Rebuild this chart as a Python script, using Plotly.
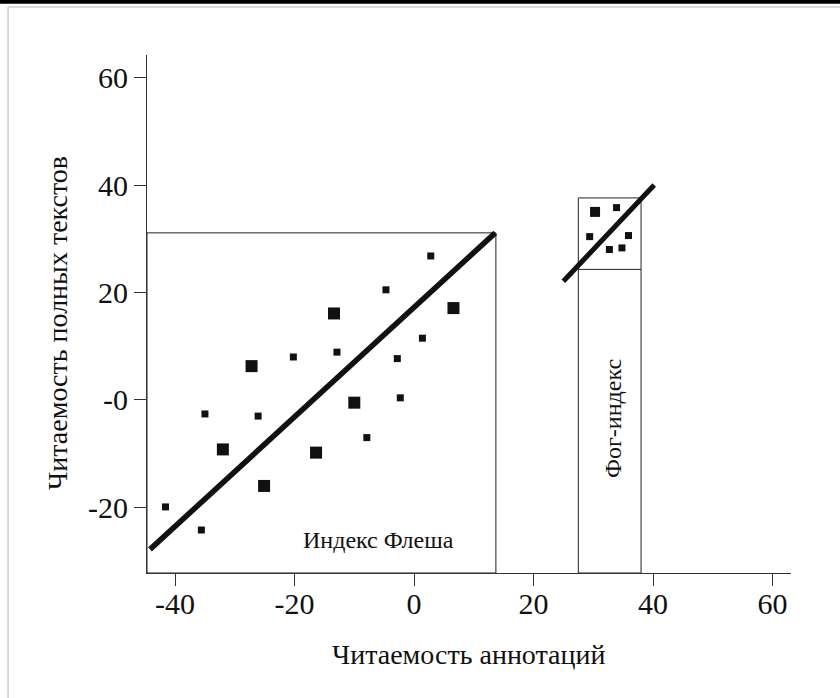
import plotly.graph_objects as go

# ---- data ----
x_ticks = [-40, -20, 0, 20, 40, 60]
x_tick_labels = ["-40", "-20", "0", "20", "40", "60"]
y_ticks = [60, 40, 20, 0, -20]
y_tick_labels = ["60", "40", "20", "-0", "-20"]

flesch_big_x = [-13.4, 6.6, -27.2, -10.0, -32.0, -16.4, -25.1]
flesch_big_y = [16.1, 17.1, 6.3, -0.5, -9.2, -9.8, -16.0]
flesch_small_x = [2.8, -4.7, 1.4, -20.2, -12.9, -2.8, -2.3, -35.0, -26.1, -7.9, -41.6, -35.6]
flesch_small_y = [26.8, 20.5, 11.5, 8.0, 8.9, 7.7, 0.4, -2.6, -3.0, -7.0, -19.9, -24.2]

fog_big_x = [30.3]
fog_big_y = [35.0]
fog_small_x = [33.9, 29.4, 35.9, 32.7, 34.8]
fog_small_y = [35.8, 30.4, 30.6, 28.0, 28.3]

flesch_fit_x = [-44.2, 13.6]
flesch_fit_y = [-27.8, 31.1]
fog_fit_x = [25.0, 40.2]
fog_fit_y = [22.1, 40.0]

flesch_box_x1 = 13.7
flesch_box_y1 = 31.1
fog_box_x = [27.5, 38.0]
fog_box_y1 = 37.6
fog_box_mid = 24.3

x_range = [-44.7, 63.1]
y_range = [-32.2, 64.2]

FONT = "Liberation Serif"
INK = "#111111"

fig = go.Figure()

def pts(x, y, size):
    fig.add_trace(go.Scatter(x=x, y=y, mode="markers",
                             marker=dict(symbol="square", size=size, color=INK,
                                         line=dict(width=0)),
                             showlegend=False, hoverinfo="skip"))

def fit(x, y, w):
    fig.add_trace(go.Scatter(x=x, y=y, mode="lines",
                             line=dict(color=INK, width=w),
                             showlegend=False, hoverinfo="skip"))

pts(flesch_big_x, flesch_big_y, 12)
pts(flesch_small_x, flesch_small_y, 7)
pts(fog_big_x, fog_big_y, 10)
pts(fog_small_x, fog_small_y, 7)
fit(flesch_fit_x, flesch_fit_y, 5.5)
fit(fog_fit_x, fog_fit_y, 5)

box_line = dict(color="#222222", width=1)
shapes = [
    dict(type="rect", xref="x", yref="y", x0=x_range[0], x1=flesch_box_x1,
         y0=y_range[0], y1=flesch_box_y1, line=box_line, layer="below"),
    dict(type="rect", xref="x", yref="y", x0=fog_box_x[0], x1=fog_box_x[1],
         y0=y_range[0], y1=fog_box_y1, line=box_line, layer="below"),
    dict(type="line", xref="x", yref="y", x0=fog_box_x[0], x1=fog_box_x[1],
         y0=fog_box_mid, y1=fog_box_mid, line=box_line, layer="below"),
    # frame decorations
    dict(type="rect", xref="paper", yref="paper", x0=-0.3, x1=1.2, y0=1.099, y1=1.2,
         fillcolor="black", line=dict(width=0)),
    dict(type="line", xref="paper", yref="paper", x0=-0.2158, x1=1.2, y0=1.0927, y1=1.0927,
         line=dict(color="#cccccc", width=1.5)),
    dict(type="line", xref="paper", yref="paper", x0=-0.2158, x1=-0.2158, y0=-0.3, y1=1.0927,
         line=dict(color="#cccccc", width=1.5)),
]

annotations = [
    dict(text="Индекс Флеша", x=-6.0, y=-26.0, xref="x", yref="y", showarrow=False,
         xanchor="center", yanchor="middle",
         font=dict(family=FONT, size=24, color=INK)),
    dict(text="Фог-индекс", x=33.3, y=-3.35, xref="x", yref="y", showarrow=False,
         xanchor="center", yanchor="middle",
         textangle=-90, font=dict(family=FONT, size=24, color=INK)),
    dict(text="Читаемость аннотаций", x=0.499, y=-0.158, xref="paper", yref="paper",
         xanchor="center", yanchor="middle",
         showarrow=False, font=dict(family=FONT, size=28, color=INK)),
    dict(text="Читаемость полных текстов", x=-0.138, y=0.483, xref="paper", yref="paper",
         xanchor="center", yanchor="middle",
         showarrow=False, textangle=-90, font=dict(family=FONT, size=28, color=INK)),
]

fig.update_layout(
    width=840, height=698,
    margin=dict(l=147, r=49, t=55, b=125),
    paper_bgcolor="white", plot_bgcolor="white",
    shapes=shapes, annotations=annotations,
    xaxis=dict(range=x_range, tickvals=x_ticks, ticktext=x_tick_labels,
               showgrid=False, zeroline=False, showline=True, linecolor="#333333",
               linewidth=1, ticks="outside", ticklen=12, tickcolor="#333333",
               ticklabelstandoff=-8,
               tickfont=dict(family=FONT, size=30, color=INK)),
    yaxis=dict(range=y_range, tickvals=y_ticks, ticktext=y_tick_labels,
               showgrid=False, zeroline=False, showline=True, linecolor="#333333",
               linewidth=1, ticks="outside", ticklen=12, tickcolor="#333333",
               tickfont=dict(family=FONT, size=30, color=INK)),
)

fig.write_html("out.html", config={"displayModeBar": False},
               post_script="document.body.style.margin='0';document.body.style.overflow='hidden';")
